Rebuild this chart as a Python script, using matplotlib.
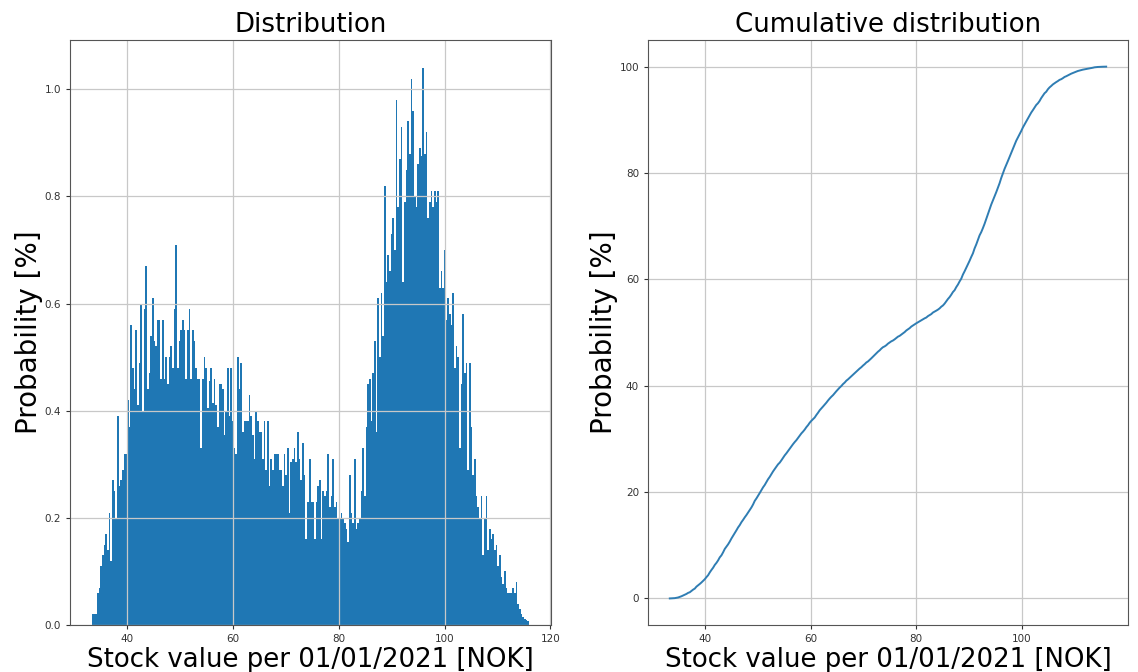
import numpy as np
import matplotlib
matplotlib.use("Agg")
import matplotlib.pyplot as plt

# ---- data -------------------------------------------------------------
# probability [%] per histogram bin, left to right
prob_low = [
    0.02, 0.02, 0.02, 0.06, 0.07, 0.11, 0.13, 0.15, 0.17, 0.14,
    0.21, 0.12, 0.27, 0.25, 0.20, 0.39, 0.26, 0.27, 0.29, 0.32,
    0.32, 0.42, 0.37, 0.56, 0.48, 0.44, 0.55, 0.41, 0.49, 0.60,
    0.40, 0.59, 0.67, 0.44, 0.47, 0.54, 0.61, 0.53, 0.52, 0.57,
    0.57, 0.46, 0.57, 0.46, 0.50, 0.45, 0.50, 0.52, 0.48, 0.59,
    0.71, 0.48, 0.53, 0.55, 0.57, 0.55, 0.46, 0.55, 0.59, 0.46,
    0.55, 0.53, 0.48, 0.46, 0.46, 0.33, 0.46, 0.50, 0.48, 0.405,
    0.455, 0.48, 0.415, 0.46, 0.41, 0.37, 0.45, 0.45, 0.44, 0.355,
    0.40, 0.48, 0.39, 0.48, 0.38, 0.33, 0.32, 0.50, 0.44, 0.49,
    0.36, 0.38, 0.38, 0.38, 0.43, 0.39, 0.355, 0.31, 0.40, 0.38,
    0.36, 0.36, 0.31, 0.38, 0.29, 0.38, 0.26, 0.31, 0.29, 0.32,
    0.32, 0.32, 0.29, 0.29, 0.26, 0.32, 0.28, 0.33, 0.21, 0.305,
    0.31, 0.33, 0.305, 0.36, 0.31,
]
prob_high = [
    0.27, 0.34, 0.28, 0.16, 0.23, 0.31, 0.23, 0.23, 0.16, 0.23,
    0.26, 0.27, 0.16, 0.25, 0.24, 0.25, 0.32, 0.22, 0.24, 0.31,
    0.22, 0.23, 0.20, 0.20, 0.21, 0.20, 0.19, 0.18, 0.155, 0.28,
    0.21, 0.19, 0.31, 0.18, 0.19, 0.20, 0.25, 0.33, 0.24, 0.37,
    0.45, 0.46, 0.38, 0.47, 0.53, 0.36, 0.61, 0.50, 0.62, 0.54,
    0.82, 0.64, 0.69, 0.66, 0.73, 0.76, 0.70, 0.98, 0.78, 0.87,
    0.93, 0.64, 0.79, 0.85, 0.94, 0.88, 1.02, 0.96, 0.80, 0.78,
    0.86, 0.89, 0.875, 1.04, 0.88, 0.92, 0.76, 0.79, 0.81, 0.78,
    0.81, 0.79, 0.81, 0.63, 0.66, 0.63, 0.70, 0.57, 0.61, 0.58,
    0.56, 0.62, 0.48, 0.52, 0.50, 0.33, 0.45, 0.58, 0.47, 0.49,
    0.29, 0.49, 0.37, 0.28, 0.31, 0.24, 0.22, 0.20, 0.24, 0.13,
    0.20, 0.24, 0.14, 0.18, 0.16, 0.17, 0.14, 0.15, 0.11, 0.13,
    0.09, 0.076, 0.10, 0.07, 0.06, 0.06, 0.06, 0.07, 0.06, 0.08,
    0.04, 0.03, 0.02, 0.015, 0.012, 0.01, 0.007,
]
value_min = 33.3    # NOK, left edge of first bin
value_max = 116.0   # NOK, right edge of last bin

titles = ["Distribution", "Cumulative distribution"]
xlabel = "Stock value per 01/01/2021 [NOK]"
ylabel = "Probability [%]"

# ---- derived -----------------------------------------------------------
prob = np.array(prob_low + prob_high)
edges = np.linspace(value_min, value_max, len(prob) + 1)
centers = 0.5 * (edges[:-1] + edges[1:])
cum = np.concatenate([[0.0], np.cumsum(prob)])
cum = cum / cum[-1] * 100.0

# ---- figure ------------------------------------------------------------
fig = plt.figure(figsize=(11.38, 6.72), dpi=100)
ax1 = fig.add_axes([0.0615, 0.0699, 0.4227, 0.8705])
ax2 = fig.add_axes([0.5694, 0.0699, 0.4218, 0.8705])

ax1.hist(centers, bins=edges, weights=prob, color="#1f77b4")
ax2.plot(edges, cum, color="#2f7db3", lw=1.4)

for ax, t in zip((ax1, ax2), titles):
    ax.grid(True, color="#c8c8c8", lw=0.9)
    ax.set_title(t, fontsize=18.7, pad=6)
    ax.set_xlabel(xlabel, fontsize=18.7, labelpad=2)
    ax.set_ylabel(ylabel, fontsize=20, labelpad=1)
    ax.tick_params(labelsize=7.5, colors="#333333", length=3)
    for s in ax.spines.values():
        s.set_color("#555555")

ax1.set_xticks([40, 60, 80, 100, 120])
ax2.set_xticks([40, 60, 80, 100])
ax2.set_yticks([0, 20, 40, 60, 80, 100])

fig.savefig("out.png", dpi=100)
